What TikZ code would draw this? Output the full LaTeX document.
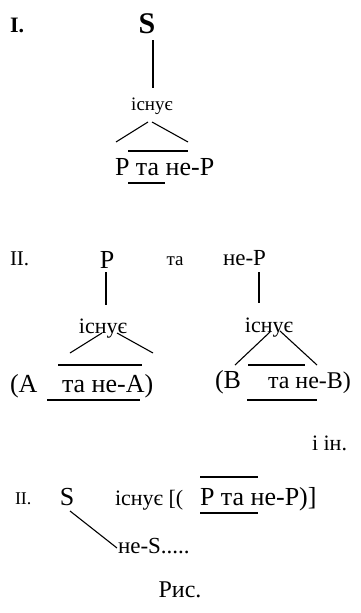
\documentclass[tikz,border=0pt]{standalone}
\usepackage{fontspec}
\setmainfont{Liberation Serif}
\newcommand{\fsz}[1]{\fontsize{#1}{#1}\selectfont}

\begin{document}
\begin{tikzpicture}[
  x=1pt,y=-1pt,
  every node/.style={inner sep=0pt,outer sep=0pt},
  lbl/.style={anchor=base west},
  mid/.style={anchor=base},
  ln/.style={line width=1.1pt,black}
]
\useasboundingbox (0,0) rectangle (360,613);
% I.
\node[lbl,font=\fsz{22}\bfseries] (numI) at (10,32) {I.};
\node[mid,font=\fsz{30}\bfseries] (S1) at (147,33) {S};
\node[mid,font=\fsz{19}] (ex1) at (152,110) {існує};
\node[lbl,font=\fsz{26}] (pp1) at (115,175) {P та не-P};
\draw[ln] ([shift={(6,7)}]S1.base) -- ([shift={(1,-22)}]ex1.base);
\draw[ln] ([shift={(-4,12)}]ex1.base) -- ([shift={(1,-33)}]pp1.base west);
\draw[ln] ([shift={(0,12)}]ex1.base) -- ([shift={(73,-33)}]pp1.base west);
\draw[ln] ([shift={(13,-24)}]pp1.base west) -- ++(60,0);
\draw[ln] ([shift={(13,8)}]pp1.base west) -- ++(37,0);
% II.
\node[lbl,font=\fsz{21}] (numII) at (10,265) {II.};
\node[mid,font=\fsz{26}] (P2) at (107,268) {P};
\node[mid,font=\fsz{19}] (ta2) at (175,265) {та};
\node[lbl,font=\fsz{23}] (nP2) at (223,265) {не-P};
\node[mid,font=\fsz{22}] (ex2a) at (103,333) {існує};
\node[mid,font=\fsz{22}] (ex2b) at (269,332) {існує};
\node[lbl,font=\fsz{26}] (A2) at (10,392) {(A};
\node[lbl,font=\fsz{26}] (nA2) at (62,392) {та не-A)};
\node[lbl,font=\fsz{26}] (B2) at (215,388) {(B};
\node[lbl,font=\fsz{24}] (nB2) at (268,388) {та не-B)};
\node[lbl,font=\fsz{22}] (etc) at (312,450) {і ін.};
\draw[ln] ([shift={(-1,4)}]P2.base) -- ([shift={(3,-28)}]ex2a.base);
\draw[ln] ([shift={(36,7)}]nP2.base west) -- ([shift={(-10,-29)}]ex2b.base);
\draw[ln] ([shift={(-1,0)}]ex2a.base) -- ([shift={(8,-39)}]nA2.base west);
\draw[ln] ([shift={(14,0)}]ex2a.base) -- ([shift={(91,-39)}]nA2.base west);
\draw[ln] ([shift={(-4,-27)}]nA2.base west) -- ++(84,0);
\draw[ln] ([shift={(-15,8)}]nA2.base west) -- ++(93,0);
\draw[ln] ([shift={(1,0)}]ex2b.base) -- ([shift={(-33,-23)}]nB2.base west);
\draw[ln] ([shift={(11,-1)}]ex2b.base) -- ([shift={(49,-23)}]nB2.base west);
\draw[ln] ([shift={(-20,-23)}]nB2.base west) -- ++(57,0);
\draw[ln] ([shift={(-21,12)}]nB2.base west) -- ++(70,0);
% III.
\node[lbl,font=\fsz{18}] (numIII) at (15,504) {II.};
\node[mid,font=\fsz{26}] (S3) at (67,505) {S};
\node[lbl,font=\fsz{22}] (ex3) at (115,505) {існує [(};
\node[lbl,font=\fsz{26}] (pp3) at (200,505) {P та не-P)]};
\node[lbl,font=\fsz{23}] (nS3) at (118,553) {не-S.....};
\draw[ln] ([shift={(0,-28)}]pp3.base west) -- ++(58,0);
\draw[ln] ([shift={(0,8)}]pp3.base west) -- ++(58,0);
\draw[ln] ([shift={(3,6)}]S3.base) -- ([shift={(-1,-5)}]nS3.base west);
% caption
\node[mid,font=\fsz{24}] (cap) at (180,597) {Рис.};
\end{tikzpicture}
\end{document}
